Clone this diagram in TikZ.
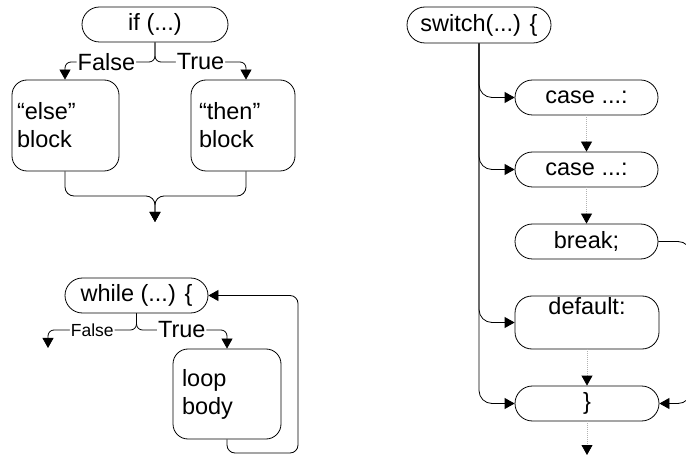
\documentclass[tikz,border=0pt]{standalone}
\usepackage{fontspec}
\setmainfont{Liberation Sans}
\usetikzlibrary{arrows.meta}
\begin{document}
\begin{tikzpicture}[x=1pt,y=-1pt,
  every node/.style={font=\fontsize{23.5}{28}\selectfont},
  pill/.style={draw, rounded corners=17.5pt, minimum height=35pt, inner sep=0pt, line width=0.8pt},
  blockbox/.style={draw, rounded corners=15pt, align=left, line width=0.8pt, inner ysep=0pt},
  con/.style={line width=0.8pt, -{Triangle[length=10pt,width=11pt]}},
  lbl/.style={fill=white, inner sep=1pt},
  smalllbl/.style={fill=white, inner sep=1pt, font=\fontsize{17.5}{21}\selectfont},
  dots/.style={draw=gray!60, dash pattern=on 1pt off 1pt, line width=0.8pt, -{Triangle[length=10pt,width=11pt,color=black]}}
]
\useasboundingbox (0,0) rectangle (686,457);
\clip (0,0) rectangle (686,457);

% ---------- if ----------
\node[pill, minimum width=146pt] (if) at (155,24.5) {if (...)};
\node[blockbox, minimum width=107pt, minimum height=91pt, text width=97pt, inner xsep=5pt] (else) at (65.5,125.5) {“else”\\block};
\node[blockbox, minimum width=104pt, minimum height=91pt, text width=88pt, inner xsep=8pt] (then) at (243,125.5) {“then”\\block};
\coordinate (ifjoin) at (155,62);
\draw[con, rounded corners=6pt] (if.south) -- (ifjoin) -| ([xshift=-0.5pt]else.north) node[lbl, pos=0.27] {False};
\draw[con, rounded corners=6pt] (if.south) -- (ifjoin) -| ([xshift=3pt]then.north) node[lbl, pos=0.25] {True};
\coordinate (ifmerge) at (155,196);
\coordinate (ifend) at (155,222);
\draw[con, rounded corners=9pt] ([xshift=-0.5pt]else.south) |- (ifmerge) -- (ifend);
\draw[con, rounded corners=9pt] ([xshift=3pt]then.south) |- (ifmerge) -- (ifend);

% ---------- while ----------
\node[pill, minimum width=143pt] (while) at (136.5,295.5) {while (...) \{};
\node[blockbox, minimum width=108pt, minimum height=90pt, text width=90pt, inner xsep=9pt] (body) at (227,394) {loop\\body};
\coordinate (wjoin) at (136.5,330);
\coordinate (wfalse) at (48,348);
\draw[con, rounded corners=6pt] (while.south) -- (wjoin) -| (wfalse) node[smalllbl, pos=0.25] {False};
\draw[con, rounded corners=6pt] (while.south) -- (wjoin) -| (body.north) node[lbl, pos=0.25] {True};
\coordinate (loopcorner) at (298,453);
\draw[con, rounded corners=8pt] (body.south) |- (loopcorner) |- (while.east);

% ---------- switch ----------
\node[pill, minimum width=144pt, minimum height=36pt, rounded corners=18pt] (switch) at (479,25) {switch(...) \{};
\node[pill, minimum width=143pt] (case1) at (586.5,97.5) {case ...:};
\node[pill, minimum width=143pt] (case2) at (586.5,169.5) {case ...:};
\node[pill, minimum width=143pt] (brk) at (586.5,241.5) {break;};
\node[pill, minimum width=144pt, minimum height=53pt, rounded corners=17pt] (default) at (587,322.5) {};
\node[anchor=north, inner sep=2pt] (deftext) at (default.north) {default:};
\node[pill, minimum width=144pt] (close) at (587,403.5) {\}};

\draw[con, rounded corners=13pt] (switch.south) |- (case1.west);
\draw[con, rounded corners=13pt] (switch.south) |- (case2.west);
\draw[con, rounded corners=13pt] (switch.south) |- (default.west);
\draw[con, rounded corners=13pt] (switch.south) |- (close.west);

\draw[dots] (case1.south) -- (case2.north);
\draw[dots] (case2.south) -- (brk.north);
\draw[dots] (default.south) -- (close.north);
\coordinate (swend) at (587,455);
\draw[dots] (close.south) -- (swend);

\coordinate (brkside) at (691,320);
\draw[con, rounded corners=13pt] (brk.east) -| (brkside) |- (close.east);
\end{tikzpicture}
\end{document}
